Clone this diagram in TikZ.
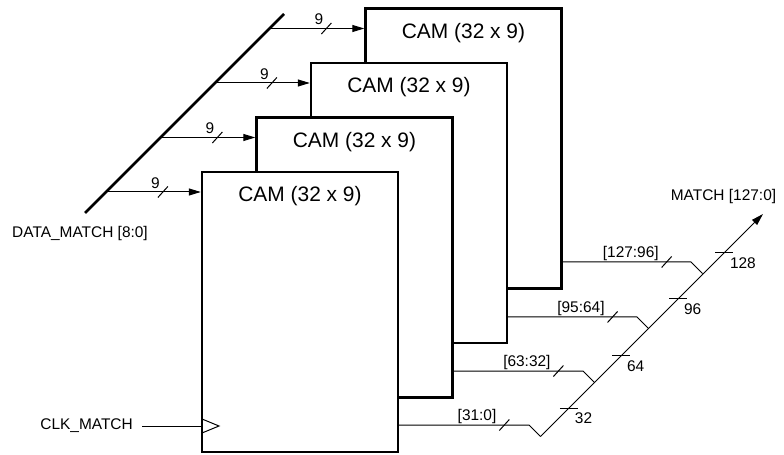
\documentclass[tikz,border=0pt]{standalone}
\usepackage{fontspec}
\setmainfont{Liberation Sans}
\usetikzlibrary{arrows.meta}

\tikzset{
  cambox/.style={draw, line width=2.4bp, fill=white, minimum width=196bp, minimum height=280bp, inner sep=0pt},
  camtext/.style={font=\fontsize{21}{24}\selectfont, inner sep=0pt, anchor=base},
  lbl/.style={font=\fontsize{15.5}{18}\selectfont, inner sep=1bp},
  sig/.style={line width=1bp},
  sigarrow/.style={sig, -{Triangle[length=12bp,width=7bp]}},
  busslash/.pic={\draw[line width=1bp, arrows=-] (-5,5.5) -- (5,-5.5);},
  bustick/.pic={\draw[line width=1bp, arrows=-] (-9,0) -- (9,0);},
}

\begin{document}
\begin{tikzpicture}[x=1bp,y=-1bp]
  \useasboundingbox (0,0) rectangle (784,455);
  % CAM blocks, back to front
  \node[cambox] (cam4) at (463.5,148.5) {};
  \node[camtext] (t4) at ([yshift=-31bp]cam4.north) {CAM (32 x 9)};
  \node[cambox] (cam3) at (409,203) {};
  \node[camtext] (t3) at ([yshift=-31bp]cam3.north) {CAM (32 x 9)};
  \node[cambox] (cam2) at (354.5,257.5) {};
  \node[camtext] (t2) at ([yshift=-31bp]cam2.north) {CAM (32 x 9)};
  \node[cambox] (cam1) at (300,312) {};
  \node[camtext] (t1) at ([yshift=-31bp]cam1.north) {CAM (32 x 9)};

  % data bus in
  \coordinate (dbot) at (85,213);
  \coordinate (dtop) at (284,14);
  \draw[line width=2.6bp] (dbot) -- (dtop);
  \node[lbl] (dlab) at (80,234) {DATA\_MATCH [8:0]};
  \coordinate (tap1) at (106,192);
  \coordinate (tap2) at (160.5,137.5);
  \coordinate (tap3) at (215,83);
  \coordinate (tap4) at (269.5,28.5);
  \draw[sigarrow] (tap1) -- node[lbl, above, pos=.52, yshift=2bp] {9} pic[pos=.6] {busslash} (tap1 -| cam1.west);
  \draw[sigarrow] (tap2) -- node[lbl, above, pos=.52, yshift=2bp] {9} pic[pos=.6] {busslash} (tap2 -| cam2.west);
  \draw[sigarrow] (tap3) -- node[lbl, above, pos=.52, yshift=2bp] {9} pic[pos=.6] {busslash} (tap3 -| cam3.west);
  \draw[sigarrow] (tap4) -- node[lbl, above, pos=.52, yshift=2bp] {9} pic[pos=.6] {busslash} (tap4 -| cam4.west);

  % clock
  \coordinate (clk) at (202,426);
  \node[lbl, anchor=east] (clklab) at (134,426) {CLK\_MATCH};
  \draw[sig, shorten <=8bp] (clklab.east) -- (clk);
  \draw[sig] ([yshift=7bp]clk) -- ([xshift=17bp]clk) -- ([yshift=-7bp]clk);

  % match outputs
  \coordinate (k1) at (529,425);   \coordinate (j1) at (540.5,436.5);
  \coordinate (k2) at (583,371);   \coordinate (j2) at (594.5,382.5);
  \coordinate (k3) at (637,317);   \coordinate (j3) at (648.5,328.5);
  \coordinate (k4) at (691,262);   \coordinate (j4) at (702.5,273.5);
  \draw[sig] (cam1.east |- k1) -- node[lbl, anchor=south east, pos=.76] {[31:0]} pic[pos=.81] {busslash} (k1) -- (j1);
  \draw[sig] (cam2.east |- k2) -- node[lbl, anchor=south east, pos=.76] {[63:32]} pic[pos=.81] {busslash} (k2) -- (j2);
  \draw[sig] (cam3.east |- k3) -- node[lbl, anchor=south east, pos=.76] {[95:64]} pic[pos=.81] {busslash} (k3) -- (j3);
  \draw[sig] (cam4.east |- k4) -- node[lbl, anchor=south east, pos=.76] {[127:96]} pic[pos=.81] {busslash} (k4) -- (j4);

  \coordinate (mtip) at (763,214);
  \draw[sigarrow] (j1) --
    pic[pos=.128] {bustick} node[lbl, anchor=north west, pos=.128, xshift=4.5bp, yshift=-3bp] {32}
    pic[pos=.362] {bustick} node[lbl, anchor=north west, pos=.362, xshift=4.5bp, yshift=-3bp] {64}
    pic[pos=.618] {bustick} node[lbl, anchor=north west, pos=.618, xshift=4.5bp, yshift=-3bp] {96}
    pic[pos=.825] {bustick} node[lbl, anchor=north west, pos=.825, xshift=4.5bp, yshift=-3bp] {128}
    (mtip);
  \node[lbl] (mlab) at (723.5,197) {MATCH [127:0]};
\end{tikzpicture}
\end{document}
